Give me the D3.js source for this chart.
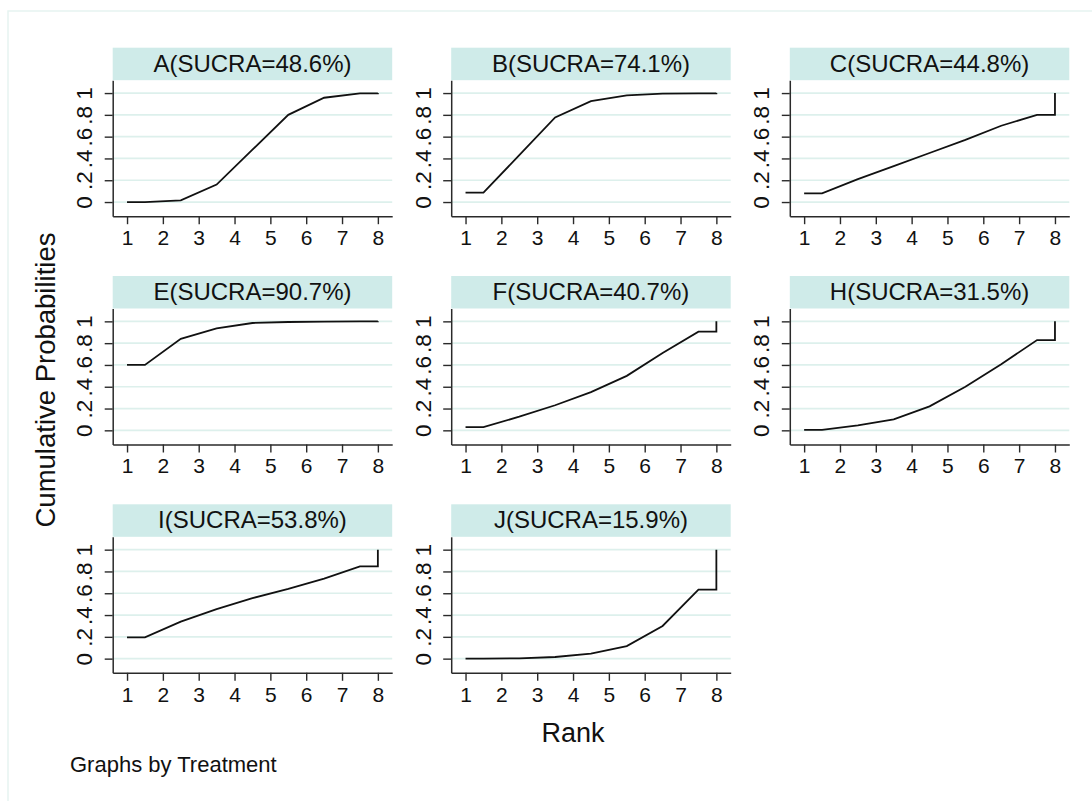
<!DOCTYPE html>
<html>
<head>
<meta charset="utf-8">
<script src="https://cdn.jsdelivr.net/npm/d3@7"></script>
<style>
  html, body { margin: 0; padding: 0; background: #fff; }
  svg { display: block; font-family: "Liberation Sans", Arial, sans-serif; }
</style>
</head>
<body>
<svg id="chart" width="1092" height="801"></svg>
<script>
// ---- data ----
const treatments = ["A", "B", "C", "E", "F", "H", "I", "J"];
const sucra = [48.6, 74.1, 44.8, 90.7, 40.7, 31.5, 53.8, 15.9];
const ranks = [1, 2, 3, 4, 5, 6, 7, 8];
const yTicks = [0, 0.2, 0.4, 0.6, 0.8, 1];
const yTickLabels = ["0", ".2", ".4", ".6", ".8", "1"];
// cumulative probability of being within the best k ranks, k = 1..7 (k = 8 is 1)
const cumA = [0.000, 0.015, 0.160, 0.480, 0.800, 0.957, 0.997];
const cumB = [0.086, 0.430, 0.776, 0.926, 0.979, 0.994, 0.997];
const cumC = [0.080, 0.210, 0.330, 0.450, 0.570, 0.700, 0.800];
const cumE = [0.600, 0.840, 0.935, 0.985, 0.994, 0.998, 0.999];
const cumF = [0.030, 0.125, 0.230, 0.350, 0.500, 0.710, 0.905];
const cumH = [0.005, 0.045, 0.100, 0.220, 0.400, 0.607, 0.828];
const cumI = [0.195, 0.340, 0.455, 0.555, 0.640, 0.735, 0.846];
const cumJ = [0.000, 0.003, 0.015, 0.046, 0.115, 0.300, 0.634];
const cumulative = [cumA, cumB, cumC, cumE, cumF, cumH, cumI, cumJ];

// ---- layout ----
const svg = d3.select("#chart");
const colLeft = [112.7, 451.2, 789.8];
const rowTop = [47.7, 276.0, 504.3];
const stripH = 32.5;
const plotW = 279.5;
const plotH = 136.0;
const ncol = 3;

const gridColor = "#ddf0ec";
const stripColor = "#cfebe9";
const axisColor = "#2a2a2a";
const fontFam = "Liberation Sans, Arial, sans-serif";

// outer faint frame
svg.append("rect")
  .attr("x", 8).attr("y", 11)
  .attr("width", 1200).attr("height", 1000)
  .attr("fill", "none").attr("stroke", "#e6f4f1").attr("stroke-width", 1.5);

const x = d3.scaleLinear().domain([0.6, 8.4]).range([0, plotW]);
const y = d3.scaleLinear().domain([-0.13, 1.118]).range([plotH, 0]);

const line = d3.line().x(d => x(d[0])).y(d => y(d[1]));

treatments.forEach((t, i) => {
  const col = i % ncol, row = Math.floor(i / ncol);
  const left = colLeft[col];
  const top = rowTop[row] + stripH;
  const g = svg.append("g").attr("transform", `translate(${left},${top})`);

  // strip
  svg.append("rect")
    .attr("x", left).attr("y", rowTop[row])
    .attr("width", plotW).attr("height", stripH)
    .attr("fill", stripColor);
  svg.append("text")
    .attr("x", left + plotW / 2).attr("y", rowTop[row] + 24)
    .attr("text-anchor", "middle")
    .attr("font-size", 24).attr("fill", "#111")
    .text(`${t}(SUCRA=${sucra[i].toFixed(1)}%)`);

  // grid
  g.selectAll("line.grid").data(yTicks).enter().append("line")
    .attr("class", "grid")
    .attr("x1", 0).attr("x2", plotW)
    .attr("y1", d => y(d)).attr("y2", d => y(d))
    .attr("stroke", gridColor).attr("stroke-width", 1.7);

  // y axis
  const ya = g.append("g")
    .call(d3.axisLeft(y).tickValues(yTicks).tickSize(8).tickSizeOuter(0)
      .tickFormat((d, k) => yTickLabels[k]));
  ya.select(".domain").attr("stroke", axisColor).attr("stroke-width", 1.5);
  ya.selectAll(".tick line").attr("stroke", axisColor).attr("stroke-width", 1.4);
  ya.selectAll(".tick text")
    .attr("x", null).attr("dy", null)
    .attr("text-anchor", "middle")
    .attr("transform", "translate(-20.5,0) rotate(-90)")
    .attr("font-size", 22.5).attr("fill", "#111")
    .attr("font-family", fontFam);

  // x axis
  const xa = g.append("g").attr("transform", `translate(0,${plotH})`)
    .call(d3.axisBottom(x).tickValues(ranks).tickSize(8).tickPadding(6).tickSizeOuter(0)
      .tickFormat(d3.format("d")));
  xa.select(".domain").attr("stroke", axisColor).attr("stroke-width", 1.5);
  xa.selectAll(".tick line").attr("stroke", axisColor).attr("stroke-width", 1.4);
  xa.selectAll(".tick text")
    .attr("font-size", 21).attr("fill", "#111")
    .attr("font-family", fontFam);

  // cumulative line: flat start, mid-rank joins, flat end, jump to 1 at last rank
  const c = cumulative[i];
  const n = ranks.length;
  const pts = [[ranks[0], c[0]]];
  c.forEach((v, k) => pts.push([ranks[k] + 0.5, v]));
  pts.push([ranks[n - 1], c[c.length - 1]]);
  pts.push([ranks[n - 1], 1]);
  g.append("path").datum(pts)
    .attr("d", line)
    .attr("fill", "none").attr("stroke", "#111").attr("stroke-width", 1.8)
    .attr("stroke-linejoin", "miter");
});

// axis titles
svg.append("text")
  .attr("transform", "translate(55,380) rotate(-90)")
  .attr("text-anchor", "middle")
  .attr("font-size", 27.5).attr("fill", "#111")
  .text("Cumulative Probabilities");

svg.append("text")
  .attr("x", 573).attr("y", 742)
  .attr("text-anchor", "middle")
  .attr("font-size", 27).attr("fill", "#111")
  .text("Rank");

svg.append("text")
  .attr("x", 70).attr("y", 772)
  .attr("font-size", 22).attr("fill", "#111")
  .text("Graphs by Treatment");
</script>
</body>
</html>
